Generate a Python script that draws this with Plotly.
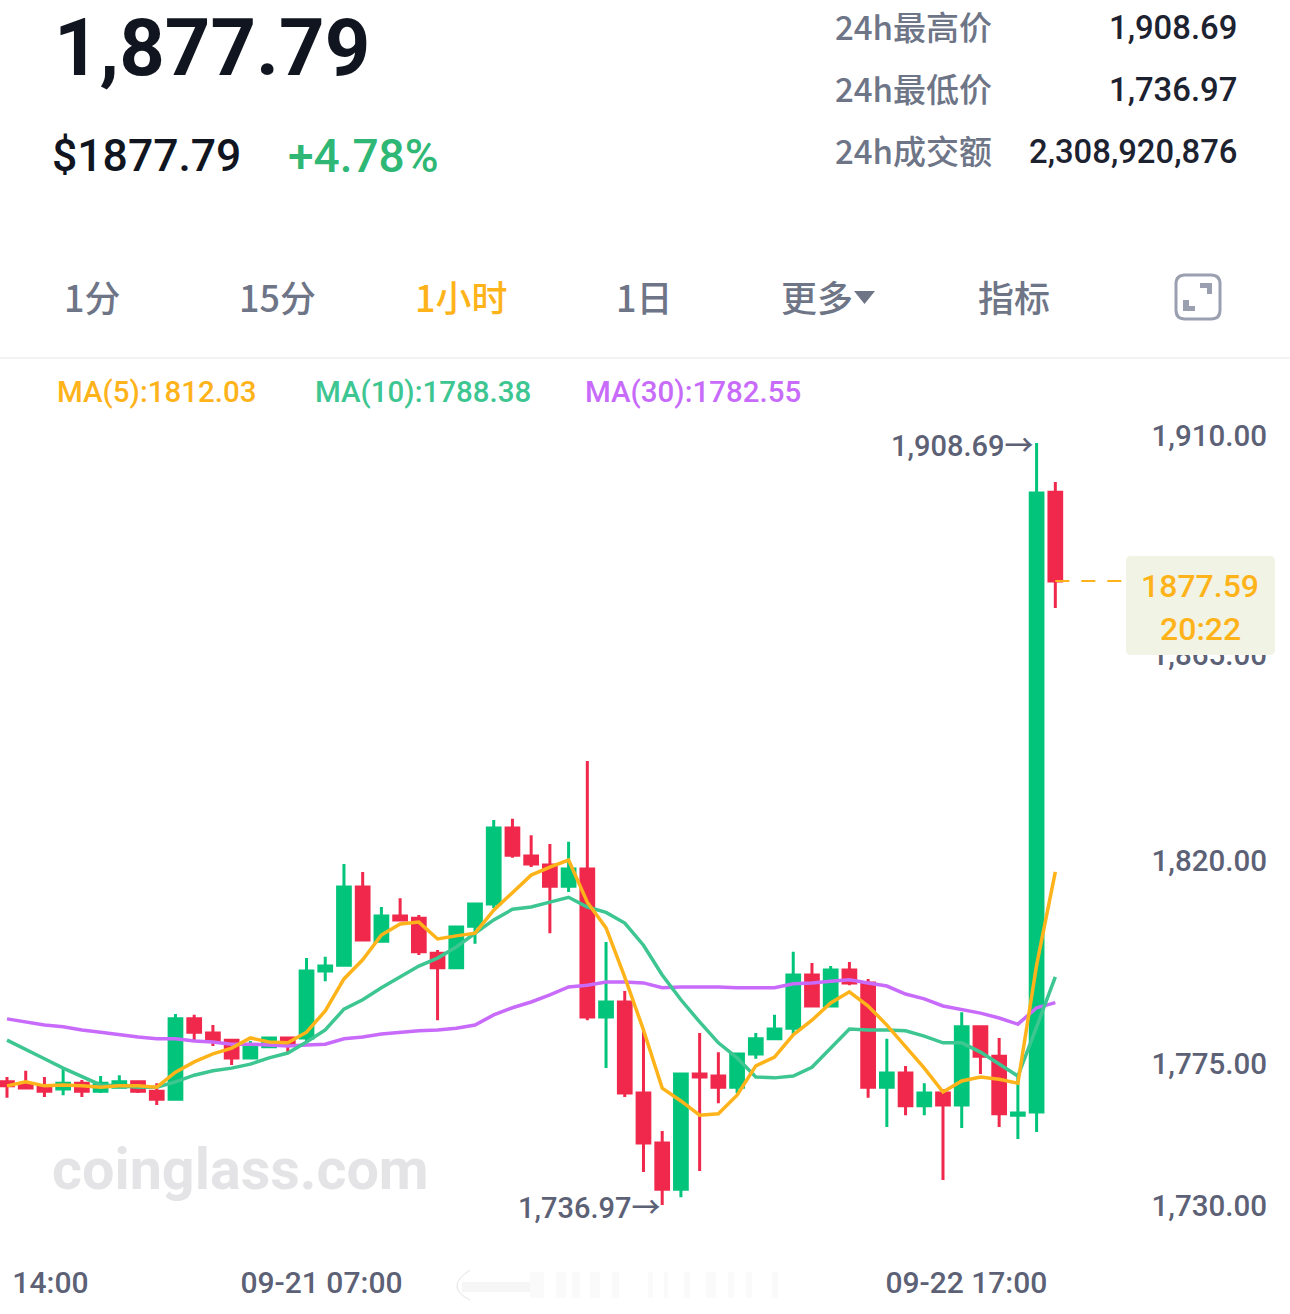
import plotly.graph_objects as go

# ---------- data ----------
open_ = [1764.7,1764.0,1763.5,1763.1,1764.4,1762.6,1763.5,1764.7,1762.6,1760.8,1778.9,1775.7,1774.1,1770.1,1772.6,1774.6,1774.6,1789.7,1791.0,1808.6,1796.4,1802.1,1801.6,1793.7,1790.4,1799.8,1804.8,1821.9,1815.6,1813.6,1808.8,1812.7,1779.3,1782.7,1762.2,1750.9,1740.5,1766.5,1766.0,1763.5,1771.0,1774.4,1776.8,1788.8,1781.8,1789.9,1787.0,1763.5,1766.7,1759.3,1762.2,1759.5,1777.1,1770.5,1757.2,1757.9,1897.6]
high = [1765.8,1767.2,1765.8,1767.8,1765.1,1766.0,1766.2,1764.9,1764.4,1780.0,1779.8,1777.5,1774.4,1773.9,1774.6,1774.6,1792.6,1792.9,1813.8,1812.0,1804.1,1806.1,1802.3,1794.4,1799.6,1805.0,1823.7,1824.0,1820.3,1818.3,1818.8,1837.0,1796.2,1785.2,1776.2,1753.6,1766.7,1775.7,1771.4,1771.2,1775.7,1779.8,1794.0,1791.5,1790.8,1791.7,1787.9,1774.4,1768.3,1764.4,1763.1,1780.4,1777.1,1774.6,1766.2,1908.69,1899.9]
low = [1761.1,1763.3,1761.3,1761.7,1761.3,1762.2,1763.3,1762.2,1759.5,1760.8,1774.1,1772.8,1768.5,1770.1,1772.6,1771.4,1773.5,1787.4,1791.0,1796.7,1796.4,1801.2,1793.3,1778.6,1790.4,1795.8,1803.9,1815.2,1813.1,1798.2,1807.5,1778.6,1767.8,1761.3,1744.4,1736.97,1738.7,1744.6,1759.9,1762.2,1769.9,1774.4,1775.3,1781.8,1781.8,1786.5,1761.1,1754.5,1757.2,1757.2,1742.6,1754.3,1766.5,1754.5,1751.8,1753.4,1871.5]
close = [1763.8,1763.3,1762.6,1764.4,1762.6,1764.4,1764.7,1762.6,1760.8,1778.9,1775.9,1774.1,1770.1,1773.0,1774.6,1773.0,1789.7,1790.8,1808.6,1796.7,1802.1,1801.2,1794.0,1790.4,1799.6,1804.8,1821.9,1815.8,1813.8,1808.8,1812.7,1779.3,1782.7,1762.2,1750.9,1740.5,1766.5,1765.8,1763.5,1771.0,1774.4,1776.6,1788.8,1781.8,1789.9,1787.0,1763.5,1766.7,1759.3,1762.2,1759.5,1777.1,1770.5,1757.5,1757.7,1897.4,1877.59]
ma5 = [1763.8,1764.7,1763.8,1764.0,1763.8,1763.5,1763.8,1763.8,1763.5,1766.9,1769.2,1771.0,1772.3,1774.6,1773.7,1773.5,1775.9,1780.7,1787.9,1792.2,1797.8,1800.3,1800.7,1796.9,1797.6,1798.2,1803.4,1807.3,1811.3,1813.1,1814.7,1805.2,1799.4,1788.3,1776.4,1763.3,1760.4,1757.2,1757.5,1761.7,1768.3,1770.3,1775.3,1778.6,1782.5,1785.0,1781.8,1777.5,1772.6,1767.8,1762.4,1764.9,1765.8,1765.3,1764.4,1791.0,1812.03]
ma10 = [1774.1,1772.1,1769.9,1767.8,1765.8,1764.0,1763.8,1763.5,1763.5,1764.7,1766.2,1767.2,1767.8,1768.7,1770.1,1771.2,1773.7,1776.4,1781.1,1783.2,1785.9,1788.3,1790.8,1792.6,1795.1,1798.2,1801.2,1803.6,1804.1,1805.2,1806.3,1804.1,1802.9,1800.5,1795.5,1788.8,1783.2,1778.2,1773.5,1770.1,1765.8,1765.6,1766.0,1768.0,1772.3,1776.6,1776.4,1776.4,1776.2,1775.0,1773.5,1773.5,1771.4,1768.7,1766.0,1777.1,1788.38]
ma30 = [1778.9,1778.2,1777.5,1777.1,1776.4,1775.9,1775.3,1774.8,1774.4,1774.4,1773.9,1773.7,1773.2,1773.2,1773.0,1772.8,1773.0,1773.2,1774.4,1774.8,1775.5,1775.9,1776.2,1776.4,1776.8,1777.5,1779.8,1781.4,1782.7,1784.3,1786.1,1786.5,1787.2,1787.2,1787.0,1785.9,1786.1,1786.1,1786.1,1785.9,1785.9,1785.9,1786.8,1787.0,1787.4,1787.7,1787.0,1786.3,1784.5,1783.4,1781.8,1781.1,1780.2,1779.1,1777.7,1781.4,1782.55]

price_tick_text = ["1,910.00", "1,865.00", "1,820.00", "1,775.00", "1,730.00"]
price_tick_at = [1910.27, 1860.9, 1814.48, 1768.7, 1736.9]
time_tick_text = ["14:00", "09-21 07:00", "09-22 17:00"]
time_tick_at = [2.32, 16.8, 51.25]

# ---------- page layout ----------
W, H = 1290, 1314
L, R, T, B = 0, 1270, 359, 1262
FONT = "Roboto, 'Noto Sans CJK SC', sans-serif"
CJK = "'Noto Sans CJK SC', Roboto, sans-serif"
GOLD = "#ffb31a"
GREEN = "#02c47a"
RED = "#f0284b"
TEAL = "#3dc691"
PURPLE = "#c86bfb"
AXIS = "#5c6176"
DARK = "#10151f"
X0, STEP = 7.0, 18.72

def px(x):
    return (x - L) / (R - L)

def py(y):
    return (B - y) / (B - T)

x_vals = list(range(len(close)))
fig = go.Figure()
fig.add_trace(go.Candlestick(
    x=x_vals, open=open_, high=high, low=low, close=close, whiskerwidth=0,
    increasing=dict(line=dict(color=GREEN, width=3), fillcolor=GREEN),
    decreasing=dict(line=dict(color=RED, width=3), fillcolor=RED),
    showlegend=False, hoverinfo="skip"))
for series, color, name in [(ma30, PURPLE, "MA30"), (ma10, TEAL, "MA10"), (ma5, GOLD, "MA5")]:
    fig.add_trace(go.Scatter(x=x_vals, y=series, mode="lines", name=name, showlegend=False,
                             line=dict(color=color, width=3.5), hoverinfo="skip"))

def text(x, y, s, size, color, anchor="left", family=FONT, weight=400):
    fig.add_annotation(xref="paper", yref="paper", x=px(x), y=py(y), text=s, showarrow=False,
                       xanchor=anchor, yanchor="middle", borderpad=0,
                       font=dict(size=size, color=color, family=family, weight=weight))

# header
text(53, 48, "1,877.79", 79.5, DARK, weight=700)
text(51, 156, "$1877.79", 44.5, DARK, weight=500)
text(287, 156, "+4.78%", 46, "#2fb875", weight=500)
for y, label, value in [(26, "24h最高价", "1,908.69"), (88, "24h最低价", "1,736.97"),
                        (150, "24h成交额", "2,308,920,876")]:
    text(834, y, label, 33, "#6e7587", family=CJK, weight=500)
    text(1238, y + 2, value, 32.8, "#1d2230", anchor="right", weight=500)

# tabs
for cx, label, color, weight in [(92, "1分", "#6e7587", 500), (277, "15分", "#6e7587", 500),
                                 (461, "1小时", GOLD, 500), (644, "1日", "#6e7587", 500),
                                 (817, "更多", "#6e7587", 500), (1014, "指标", "#6e7587", 500)]:
    text(cx, 296, label, 36, color, anchor="center", family=CJK, weight=weight)

# MA legend
text(56, 392, "MA(5):1812.03", 29.5, GOLD, weight=500)
text(314, 392, "MA(10):1788.38", 29.5, TEAL, weight=500)
text(584, 392, "MA(30):1782.55", 29.5, PURPLE, weight=500)

# extreme labels and watermark
text(1034, 446, "1,908.69→", 29, AXIS, anchor="right", weight=500)
text(661, 1208, "1,736.97→", 29, AXIS, anchor="right", weight=500)
text(51, 1169, "coinglass.com", 57.5, "#e4e4e6", weight=700)

# last price badge
text(1200, 586, "1877.59", 32, GOLD, anchor="center", weight=500)
text(1200, 629, "20:22", 32, GOLD, anchor="center", weight=500)

def rounded(x0, y0, x1, y1, r):
    a, b, c, d = px(x0), py(y0), px(x1), py(y1)
    rx, ry = r / (R - L), r / (B - T)
    return (f"M{a+rx},{b} L{c-rx},{b} Q{c},{b} {c},{b-ry} L{c},{d+ry} Q{c},{d} {c-rx},{d} "
            f"L{a+rx},{d} Q{a},{d} {a},{d+ry} L{a},{b-ry} Q{a},{b} {a+rx},{b} Z")

def poly(points):
    return "M" + " L".join(f"{px(x)},{py(y)}" for x, y in points) + " Z"

shapes = [
    dict(type="line", xref="paper", yref="paper", x0=0, x1=px(1290), y0=py(358), y1=py(358),
         line=dict(color="#eeeeee", width=1.5)),
    dict(type="line", xref="x", yref="y", x0=x_vals[-1], x1=(1126 - X0) / STEP,
         y0=close[-1], y1=close[-1], line=dict(color=GOLD, width=2, dash="14px,12px")),
    dict(type="path", xref="paper", yref="paper", path=rounded(1126, 556, 1275, 655, 5),
         fillcolor="#f1f3e4", line=dict(width=0), layer="above"),
    # expand icon
    dict(type="path", xref="paper", yref="paper", path=rounded(1176, 275, 1220, 319, 9),
         fillcolor="rgba(0,0,0,0)", line=dict(color="#9aa0b0", width=3)),
    dict(type="path", xref="paper", yref="paper",
         path=poly([(1200, 283), (1212, 283), (1212, 294), (1207, 294), (1207, 288), (1200, 288)]),
         fillcolor="#9aa0b0", line=dict(width=0)),
    dict(type="path", xref="paper", yref="paper",
         path=poly([(1183, 300), (1189, 300), (1189, 306), (1195, 306), (1195, 311), (1183, 311)]),
         fillcolor="#9aa0b0", line=dict(width=0)),
    # dropdown triangle
    dict(type="path", xref="paper", yref="paper",
         path=poly([(854, 291), (875, 291), (864.5, 304)]),
         fillcolor="#6e7587", line=dict(width=0)),
    # faint smudge across the bottom scale: an arc and pale streaks
    dict(type="path", xref="paper", yref="paper",
         path=f"M{px(470)},{py(1270)} Q{px(444)},{py(1287)} {px(470)},{py(1300)}",
         line=dict(color="#e2e2e2", width=1), fillcolor="rgba(0,0,0,0)"),
    dict(type="rect", xref="paper", yref="paper", x0=px(462), x1=px(530), y0=py(1282), y1=py(1292),
         fillcolor="#f6f6f6", line=dict(width=0)),
]
for sx, sw in [(530, 14), (556, 10), (572, 8), (590, 10), (612, 7), (648, 5), (664, 4),
               (684, 6), (706, 10), (728, 6), (746, 6), (772, 6)]:
    shapes.append(dict(type="rect", xref="paper", yref="paper", x0=px(sx), x1=px(sx + sw),
                       y0=py(1272), y1=py(1298), fillcolor="#fafafa", line=dict(width=0)))

fig.update_layout(
    width=W, height=H, autosize=False,
    margin=dict(l=L, r=W - R, t=T, b=H - B),
    paper_bgcolor="white", plot_bgcolor="white",
    shapes=shapes, showlegend=False, boxgap=0.32, boxgroupgap=0,
    font=dict(family=FONT),
    xaxis=dict(range=[-X0 / STEP, (R - X0) / STEP], showgrid=False, zeroline=False, showline=False,
               ticks="", rangeslider=dict(visible=False), tickmode="array",
               tickvals=time_tick_at, ticktext=time_tick_text,
               tickfont=dict(size=30, color=AXIS, family=FONT, weight=500)),
    yaxis=dict(range=[1724.1, 1927.62], side="right", ticklabelposition="inside", showgrid=False,
               zeroline=False, showline=False, ticks="", tickmode="array",
               tickvals=price_tick_at, ticktext=price_tick_text,
               tickfont=dict(size=29.5, color=AXIS, family=FONT, weight=500)),
)
fig.write_html("out.html", config=dict(displayModeBar=False, staticPlot=True),
               post_script="document.body.style.margin='0';document.body.style.overflow='hidden';")
